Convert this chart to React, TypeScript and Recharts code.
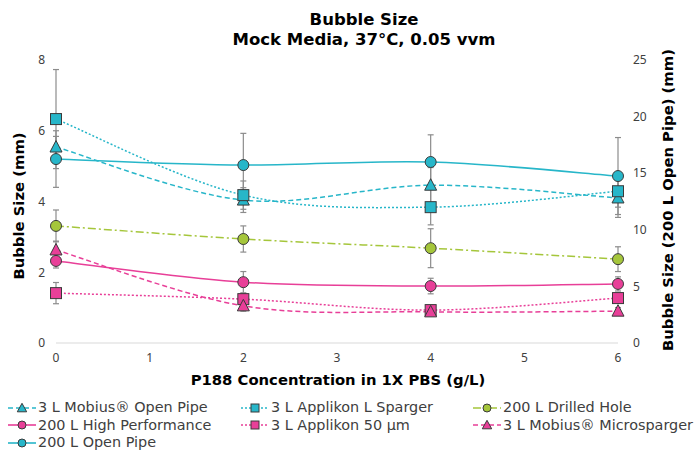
import React from 'react';
import { LineChart, Line, XAxis, YAxis, ErrorBar } from 'recharts';

const concentrations = [0, 2, 4, 6];
const mobiusOpen = [5.54, 4.04, 4.46, 4.1];
const mobiusOpenErr = [0.3, 0.35, 0.5, 0.55];
const applikonL = [6.33, 4.18, 3.84, 4.29];
const applikonLErr = [1.4, 0.4, 0.5, 0.45];
const drilled = [3.31, 2.94, 2.68, 2.37];
const drilledErr = [0.45, 0.37, 0.55, 0.35];
const highPerf = [2.32, 1.72, 1.61, 1.67];
const highPerfErr = [0.2, 0.3, 0.22, 0.2];
const applikon50 = [1.41, 1.24, 0.93, 1.27];
const applikon50Err = [0.3, 0.15, 0.12, 0.1];
const mobiusMicro = [2.63, 1.05, 0.88, 0.9];
const mobiusMicroErr = [0.25, 0.15, 0.1, 0.1];
const openPipe = [16.25, 15.72, 15.99, 14.75];
const openPipeErr = [2.5, 2.8, 2.4, 3.4];

const leftTicks = [0, 2, 4, 6, 8];
const rightTicks = [0, 5, 10, 15, 20, 25];
const xTicks = [0, 1, 2, 3, 4, 5, 6];

const CYAN = '#27b6c9';
const PINK = '#e83f98';
const GREEN = '#a5c63b';

type Shape = 'circle' | 'square' | 'triangle';

const seriesDefs = [
  { key: 'mobiusOpen', name: '3 L Mobius® Open Pipe', vals: mobiusOpen, errs: mobiusOpenErr, color: CYAN, dash: '5 3', shape: 'triangle' as Shape, axis: 'left' },
  { key: 'applikonL', name: '3 L Applikon L Sparger', vals: applikonL, errs: applikonLErr, color: CYAN, dash: '2 2', shape: 'square' as Shape, axis: 'left' },
  { key: 'drilled', name: '200 L Drilled Hole', vals: drilled, errs: drilledErr, color: GREEN, dash: '8 3 2 3', shape: 'circle' as Shape, axis: 'left' },
  { key: 'highPerf', name: '200 L High Performance', vals: highPerf, errs: highPerfErr, color: PINK, dash: undefined, shape: 'circle' as Shape, axis: 'left' },
  { key: 'applikon50', name: '3 L Applikon 50 µm', vals: applikon50, errs: applikon50Err, color: PINK, dash: '2 2', shape: 'square' as Shape, axis: 'left' },
  { key: 'mobiusMicro', name: '3 L Mobius® Microsparger', vals: mobiusMicro, errs: mobiusMicroErr, color: PINK, dash: '5 3', shape: 'triangle' as Shape, axis: 'left' },
  { key: 'openPipe', name: '200 L Open Pipe', vals: openPipe, errs: openPipeErr, color: CYAN, dash: undefined, shape: 'circle' as Shape, axis: 'right' },
];

const data = concentrations.map((c, i) => {
  const row: any = { x: c };
  seriesDefs.forEach((s) => {
    row[s.key] = s.vals[i];
    row[s.key + 'Err'] = s.errs[i];
  });
  return row;
});

// Excel-like smoothing curve (Catmull-Rom style bezier)
function excelCurve(context: any) {
  let pts: number[][] = [];
  return {
    areaStart() {},
    areaEnd() {},
    lineStart() {
      pts = [];
    },
    lineEnd() {
      if (!pts.length) return;
      context.moveTo(pts[0][0], pts[0][1]);
      for (let i = 0; i < pts.length - 1; i++) {
        const p0 = pts[i - 1] || pts[i];
        const p1 = pts[i];
        const p2 = pts[i + 1];
        const p3 = pts[i + 2] || p2;
        const c1x = p1[0] + (p2[0] - p0[0]) / 6;
        const c1y = p1[1] + (p2[1] - p0[1]) / 6;
        const c2x = p2[0] - (p3[0] - p1[0]) / 6;
        const c2y = p2[1] - (p3[1] - p1[1]) / 6;
        context.bezierCurveTo(c1x, c1y, c2x, c2y, p2[0], p2[1]);
      }
    },
    point(x: number, y: number) {
      pts.push([+x, +y]);
    },
  };
}

function Marker({ shape, cx, cy, color }: { shape: Shape; cx: number; cy: number; color: string }) {
  const stroke = '#3a3a3a';
  if (shape === 'circle') return <circle cx={cx} cy={cy} r={5.5} fill={color} stroke={stroke} strokeWidth={1} />;
  if (shape === 'square')
    return <rect x={cx - 5.5} y={cy - 5.5} width={11} height={11} fill={color} stroke={stroke} strokeWidth={1} />;
  return (
    <polygon
      points={`${cx},${cy - 6.5} ${cx + 6},${cy + 5} ${cx - 6},${cy + 5}`}
      fill={color}
      stroke={stroke}
      strokeWidth={1}
    />
  );
}

const FONT = '"DejaVu Sans", Verdana, sans-serif';
const TFONT = '"Noto Sans", "Open Sans", sans-serif';

function LegendItem({ s }: { s: (typeof seriesDefs)[number] }) {
  return (
    <div style={{ display: 'flex', alignItems: 'center', height: 17.5 }}>
      <svg width={30} height={14} style={{ marginRight: 1, flex: 'none' }}>
        <line x1={1} y1={7} x2={29} y2={7} stroke={s.color} strokeWidth={1.6} strokeDasharray={s.dash} />
        {s.shape === 'circle' && <circle cx={15} cy={7} r={4} fill={s.color} stroke="#3a3a3a" strokeWidth={1} />}
        {s.shape === 'square' && <rect x={11} y={3} width={8} height={8} fill={s.color} stroke="#3a3a3a" strokeWidth={1} />}
        {s.shape === 'triangle' && (
          <polygon points="15,2.3 19.7,10.8 10.3,10.8" fill={s.color} stroke="#3a3a3a" strokeWidth={1} />
        )}
      </svg>
      <span style={{ fontSize: 14.4, color: '#404040', fontFamily: FONT, whiteSpace: 'nowrap', lineHeight: '17px' }}>
        {s.name}
      </span>
    </div>
  );
}

export default function App() {
  const colX = [7, 240, 472];
  return (
    <div style={{ position: 'absolute', left: 0, top: 0, width: 694, height: 450, background: '#fff', overflow: 'hidden' }}>
      <LineChart width={694} height={450} data={data} margin={{ top: 60, right: 10, bottom: 67, left: 10 }}>
        <XAxis
          dataKey="x"
          type="number"
          domain={[0, 6]}
          ticks={xTicks}
          tickLine={false}
          axisLine={{ stroke: '#d9d9d9', strokeWidth: 1 }}
          tick={{ fill: '#404040', fontSize: 12, fontFamily: TFONT }}
          height={40}
          tickMargin={4}
        />
        <YAxis
          yAxisId="left"
          domain={[0, 8]}
          ticks={leftTicks}
          tickLine={false}
          axisLine={false}
          width={46}
          tick={{ fill: '#404040', fontSize: 12, fontFamily: TFONT }}
          tickMargin={5}
        />
        <YAxis
          yAxisId="right"
          orientation="right"
          domain={[0, 25]}
          ticks={rightTicks}
          tickLine={false}
          axisLine={false}
          width={66}
          tick={{ fill: '#404040', fontSize: 12, fontFamily: TFONT }}
          tickMargin={9}
        />
        {seriesDefs.map((s) => (
          <Line
            key={s.key}
            yAxisId={s.axis}
            dataKey={s.key}
            name={s.name}
            type={excelCurve as any}
            stroke={s.color}
            strokeWidth={1.5}
            strokeDasharray={s.dash}
            isAnimationActive={false}
            dot={(p: any) => <Marker key={`${s.key}-${p.index}`} shape={s.shape} cx={p.cx} cy={p.cy} color={s.color} />}
            activeDot={false}
          >
            <ErrorBar dataKey={s.key + 'Err'} direction="y" width={3} stroke="#8c8c8c" strokeWidth={1.2} />
          </Line>
        ))}
      </LineChart>
      <svg width={694} height={450} style={{ position: 'absolute', left: 0, top: 0, pointerEvents: 'none' }}>
        <text x={364} y={25} textAnchor="middle" fontFamily={FONT} fontWeight="bold" fontSize={16.5} fill="#000">
          Bubble Size
        </text>
        <text x={364} y={45} textAnchor="middle" fontFamily={FONT} fontWeight="bold" fontSize={16.5} fill="#000">
          Mock Media, 37°C, 0.05 vvm
        </text>
        <text x={338} y={385} textAnchor="middle" fontFamily={FONT} fontWeight="bold" fontSize={14.8} fill="#000">
          P188 Concentration in 1X PBS (g/L)
        </text>
        <text
          x={0}
          y={0}
          transform="translate(24,206) rotate(-90)"
          textAnchor="middle"
          fontFamily={FONT}
          fontWeight="bold"
          fontSize={14.8}
          fill="#000"
        >
          Bubble Size (mm)
        </text>
        <text
          x={0}
          y={0}
          transform="translate(673,200) rotate(-90)"
          textAnchor="middle"
          fontFamily={FONT}
          fontWeight="bold"
          fontSize={14.8}
          fill="#000"
        >
          Bubble Size (200 L Open Pipe) (mm)
        </text>
      </svg>
      <div style={{ position: 'absolute', left: 0, top: 399, width: 694 }}>
        {[0, 1, 2].map((row) => (
          <div key={row} style={{ position: 'relative', height: 17.5 }}>
            {[0, 1, 2].map((col) => {
              const s = seriesDefs[row * 3 + col];
              if (!s) return null;
              return (
                <div key={col} style={{ position: 'absolute', left: colX[col], top: 0 }}>
                  <LegendItem s={s} />
                </div>
              );
            })}
          </div>
        ))}
      </div>
    </div>
  );
}
